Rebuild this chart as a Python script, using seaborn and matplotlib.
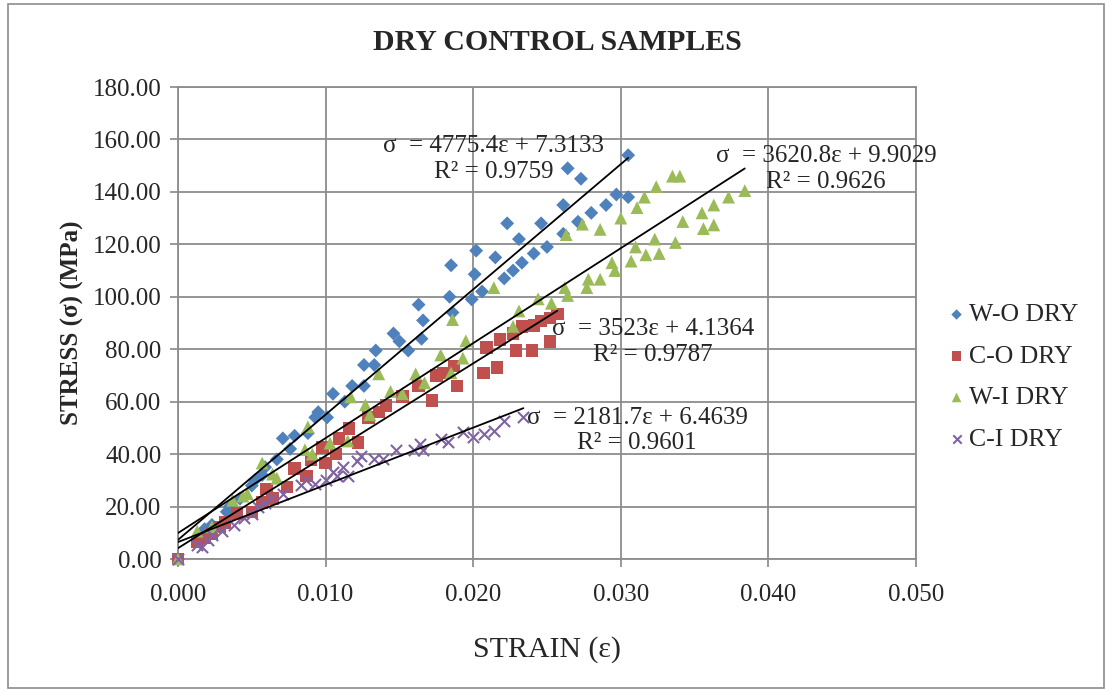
import numpy as np
import pandas as pd
import matplotlib
matplotlib.use("Agg")
import matplotlib.pyplot as plt
import seaborn as sns
from matplotlib.patches import Rectangle

# ---------------- data ----------------
wo_strain = [0, 0.0018, 0.0023, 0.0033, 0.0035, 0.0042, 0.0050, 0.0052, 0.0057, 0.0059,
             0.0067, 0.0071, 0.0076, 0.0079, 0.0088, 0.0093, 0.0095, 0.0101, 0.0105, 0.0113,
             0.0118, 0.0126, 0.0126, 0.0133, 0.0134, 0.0146, 0.0150, 0.0156, 0.0163, 0.0165,
             0.0166, 0.0184, 0.0185, 0.0186, 0.0199, 0.0201, 0.0202, 0.0206, 0.0215, 0.0221,
             0.0223, 0.0227, 0.0231, 0.0233, 0.0241, 0.0246, 0.0250, 0.0261, 0.0261, 0.0264,
             0.0273, 0.0271, 0.0280, 0.0290, 0.0297, 0.0305, 0.0305]
wo_stress = [0, 11.4, 13, 18, 20, 23, 28, 30, 32, 35,
             38, 46, 42, 47, 48, 54, 56, 54, 63, 60,
             66, 66, 74, 74, 79.5, 86, 83, 79.5, 97, 84,
             91, 100, 112, 94, 99, 108.6, 117.6, 102, 115, 107,
             128, 110, 122, 113, 116.5, 128, 119, 135, 124, 149,
             145, 128.6, 132, 135, 139, 138, 154]

co_strain = [0, 0.0013, 0.0018, 0.0023, 0.0028, 0.0032, 0.0040, 0.0050, 0.0057, 0.0060,
             0.0064, 0.0074, 0.0079, 0.0087, 0.0090, 0.0098, 0.0100, 0.0107, 0.0109, 0.0116,
             0.0122, 0.0129, 0.0136, 0.0141, 0.0152, 0.0163, 0.0172, 0.0175, 0.0180, 0.0187,
             0.0189, 0.0207, 0.0209, 0.0216, 0.0218, 0.0227, 0.0229, 0.0233, 0.0240, 0.0241,
             0.0246, 0.0252, 0.0252, 0.0257]
co_stress = [0, 6.4, 8, 9.7, 12.3, 14, 17.3, 18, 21.5, 26.6,
             23, 27.4, 34.5, 31.6, 38, 42.5, 36.6, 40, 46, 49.7,
             44.5, 54, 56, 58.5, 62, 66, 60.5, 70, 71, 73.6,
             66, 71, 80.7, 73, 83.7, 86, 79.5, 88.7, 79.5, 89,
             90.8, 92, 83, 93.4]

wi_strain = [0, 0.0013, 0.0023, 0.0037, 0.0044, 0.0047, 0.0057, 0.0064, 0.0067, 0.0086,
             0.0088, 0.0091, 0.0103, 0.0115, 0.0117, 0.0127, 0.0130, 0.0136, 0.0144, 0.0152,
             0.0161, 0.0167, 0.0178, 0.0185, 0.0186, 0.0193, 0.0195, 0.0214, 0.0227, 0.0231,
             0.0244, 0.0253, 0.0262, 0.0263, 0.0264, 0.0274, 0.0277, 0.0278, 0.0286, 0.0286,
             0.0294, 0.0296, 0.0300, 0.0307, 0.0310, 0.0311, 0.0316, 0.0317, 0.0323, 0.0324,
             0.0326, 0.0335, 0.0337, 0.0340, 0.0342, 0.0355, 0.0356, 0.0363, 0.0363, 0.0373,
             0.0384]
wi_stress = [0, 10.6, 12.3, 22.4, 24, 24.9, 36.6, 32.4, 30.8, 41.7,
             50.4, 40, 44.2, 45, 61.8, 58.8, 55, 70.6, 63.9, 63,
             70.6, 67.2, 77.8, 71, 91.3, 76.6, 83.2, 103.5, 88.7, 94.6,
             99.2, 97.5, 103.5, 123.7, 100.5, 127.7, 103.5, 106.7, 106.7, 125.7,
             113, 110, 130, 113.6, 119, 134, 138, 116, 122, 142,
             116.5, 146, 120.7, 146, 128.7, 132, 126, 135, 127.4, 138,
             140.5]

ci_strain = [0, 0.0013, 0.0016, 0.0020, 0.0023, 0.0030, 0.0038, 0.0045, 0.0050, 0.0054,
             0.0059, 0.0064, 0.0071, 0.0083, 0.0087, 0.0093, 0.0100, 0.0105, 0.0108, 0.0112,
             0.0115, 0.0121, 0.0124, 0.0133, 0.0139, 0.0148, 0.0160, 0.0164, 0.0166, 0.0178,
             0.0183, 0.0193, 0.0200, 0.0207, 0.0214, 0.0221, 0.0234]
ci_stress = [0, 5.2, 4.7, 7.2, 9.2, 10.6, 13, 15.6, 17.3, 19.8,
             21.5, 23.2, 24.9, 28.2, 30, 28.6, 30.3, 33.3, 31.6, 35,
             31.6, 37.5, 39.2, 38.3, 38.3, 41.7, 41.7, 43.7, 41.7, 45.9,
             44.5, 48.4, 46.7, 47.6, 48.7, 52.6, 54.3]

series_names = ["W-O DRY", "C-O DRY", "W-I DRY", "C-I DRY"]
slopes = [4775.4, 3523.0, 3620.8, 2181.7]
intercepts = [7.3133, 4.1364, 9.9029, 6.4639]
r2_values = [0.9759, 0.9787, 0.9626, 0.9601]
eq_labels = ["σ  = 4775.4ε + 7.3133\nR² = 0.9759",
             "σ  = 3523ε + 4.1364\nR² = 0.9787",
             "σ  = 3620.8ε + 9.9029\nR² = 0.9626",
             "σ  = 2181.7ε + 6.4639\nR² = 0.9601"]
x_ticks = [0.000, 0.010, 0.020, 0.030, 0.040, 0.050]
y_ticks = [0, 20, 40, 60, 80, 100, 120, 140, 160, 180]

# ---------------- styling ----------------
sns.set_style("whitegrid")
plt.rcParams['font.family'] = ['Liberation Serif', 'DejaVu Serif']

colors = ["#4F81BD", "#C0504D", "#9BBB59", "#8064A2"]
markers = ["D", "s", "^", "x"]
sizes = [50, 80, 85, 65]
strains = [wo_strain, co_strain, wi_strain, ci_strain]
stresses = [wo_stress, co_stress, wi_stress, ci_stress]

fig = plt.figure(figsize=(11.12, 6.92), dpi=100)
ax = fig.add_axes([178/1112, 1 - 559/692, (916-178)/1112, (559-87)/692])

for name, xs, ys, c, m, s in zip(series_names, strains, stresses, colors, markers, sizes):
    df = pd.DataFrame({"strain": xs, "stress": ys})
    if m == "x":
        sns.scatterplot(data=df, x="strain", y="stress", ax=ax, color=c, marker=m,
                        s=s, linewidth=1.5, label=name, zorder=3, clip_on=False)
    else:
        sns.scatterplot(data=df, x="strain", y="stress", ax=ax, color=c, marker=m,
                        s=s, edgecolor="none", linewidth=0, label=name, zorder=3,
                        clip_on=False)

# trend lines
for xs, a, b in zip(strains, slopes, intercepts):
    xx = np.array([0, max(xs)])
    ax.plot(xx, a * xx + b, color="black", lw=1.3, zorder=4)

# equation labels (data coords)
label_pos = [(0.0214, 152.5), (0.0322, 82.7), (0.0439, 148.7), (0.0311, 49.1)]
for (lx, ly), txt in zip(label_pos, eq_labels):
    ax.text(lx, ly, txt, ha="center", va="center", fontsize=18, linespacing=1.2,
            zorder=5)

ax.set_xlim(0, 0.050)
ax.set_ylim(0, 180)
ax.set_xticks(x_ticks)
ax.set_xticklabels([f"{v:.3f}" for v in x_ticks])
ax.set_yticks(y_ticks)
ax.set_yticklabels([f"{v:.2f}" for v in y_ticks])
ax.tick_params(axis="both", labelsize=18, length=6, width=1.2, color="#878787",
               direction="out", left=True, bottom=True, pad=6)
ax.tick_params(axis="x", pad=12)
ax.grid(True, color="#8c8c8c", linewidth=1.3)
for side in ["left", "bottom", "right", "top"]:
    ax.spines[side].set_visible(True)
    ax.spines[side].set_color("#8c8c8c")
    ax.spines[side].set_linewidth(1.3)

ax.set_xlabel("STRAIN (ε)", fontsize=21.5, labelpad=22)
ax.set_ylabel("STRESS (σ) (MPa)", fontsize=18, fontweight="bold", labelpad=6)
fig.text(557/1112, 1 - 43/692, "DRY CONTROL SAMPLES", ha="center", va="center",
         fontsize=21.5, fontweight="bold")

leg = ax.legend(loc="center left", bbox_to_anchor=(936/1112, 1 - 377/692),
                bbox_transform=fig.transFigure, frameon=False, fontsize=18.5,
                handletextpad=0.1, labelspacing=0.72, handlelength=0.8,
                markerscale=0.75, borderaxespad=0)

# outer chart border
fig.patches.append(Rectangle((8/1112, 4/692), (1104-8)/1112, (688-4)/692,
                             transform=fig.transFigure, fill=False,
                             edgecolor="#8c8c8c", linewidth=1.2))

fig.savefig("out.png", dpi=100, facecolor="white")
